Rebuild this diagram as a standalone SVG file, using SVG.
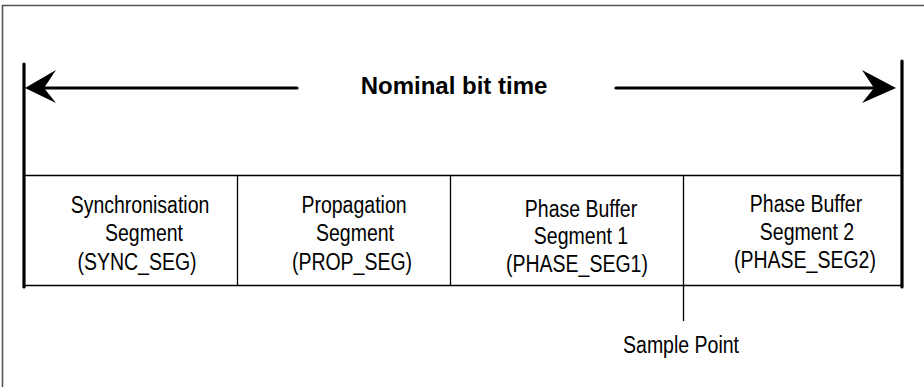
<svg xmlns="http://www.w3.org/2000/svg" width="924" height="387" viewBox="0 0 924 387">
<style>
.t{font-family:"Liberation Sans",Arial,sans-serif;font-size:19.5px;fill:#000;text-anchor:middle}
.b{font-family:"Liberation Sans",Arial,sans-serif;font-size:24px;font-weight:bold;fill:#000;text-anchor:middle}
.thin{stroke:#000;stroke-width:1.3;fill:none}
.thick{stroke:#000;stroke-width:3.2;fill:none;stroke-linecap:round}
</style>
<rect width="924" height="387" fill="#fff"/>
<g id="frame">
<path d="M2.5 387 V5.5 H924" stroke="#555" stroke-width="1.6" fill="none"/>
</g>
<g id="table">
<path class="thin" d="M25 175.5 H901 M25 285.5 H901 M237.5 175 V285 M450.5 175 V285 M683.5 175 V285"/>
</g>
<g id="bit-time">
<line class="thick" x1="24" y1="64" x2="24" y2="287" stroke-linecap="butt"/>
<line class="thick" x1="902" y1="61" x2="902" y2="287" stroke-linecap="butt"/>
<text class="b" x="454" y="94">Nominal bit time</text>
</g>
<g id="connectors">
<line class="thick" x1="40" y1="88" x2="297" y2="88"/>
<polygon points="25,88 56,70 44,88 56,103" fill="#000"/>
<line class="thick" x1="616" y1="88" x2="880" y2="88"/>
<polygon points="896,88 862,70 874,88 862,103" fill="#000"/>
<line class="thin" x1="683.5" y1="285" x2="683.5" y2="321"/>
</g>
<g id="sync-seg">
<text class="t" transform="translate(140 213) scale(1 1.19)">Synchronisation</text>
<text class="t" transform="translate(144 241) scale(1 1.19)">Segment</text>
<text class="t" transform="translate(137 270) scale(1 1.19)">(SYNC_SEG)</text>
</g>
<g id="prop-seg">
<text class="t" transform="translate(354 213) scale(1 1.19)">Propagation</text>
<text class="t" transform="translate(355 241) scale(1 1.19)">Segment</text>
<text class="t" transform="translate(352 270) scale(1 1.19)">(PROP_SEG)</text>
</g>
<g id="phase-seg1">
<text class="t" transform="translate(581 216.5) scale(1 1.19)">Phase Buffer</text>
<text class="t" transform="translate(581 244) scale(1 1.19)">Segment 1</text>
<text class="t" transform="translate(577 272) scale(1 1.19)">(PHASE_SEG1)</text>
</g>
<g id="phase-seg2">
<text class="t" transform="translate(806 211.5) scale(1 1.19)">Phase Buffer</text>
<text class="t" transform="translate(807 239.5) scale(1 1.19)">Segment 2</text>
<text class="t" transform="translate(805 268) scale(1 1.19)">(PHASE_SEG2)</text>
</g>
<g id="sample-point">
<text class="t" transform="translate(681 352.5) scale(1 1.19)">Sample Point</text>
</g>
</svg>
